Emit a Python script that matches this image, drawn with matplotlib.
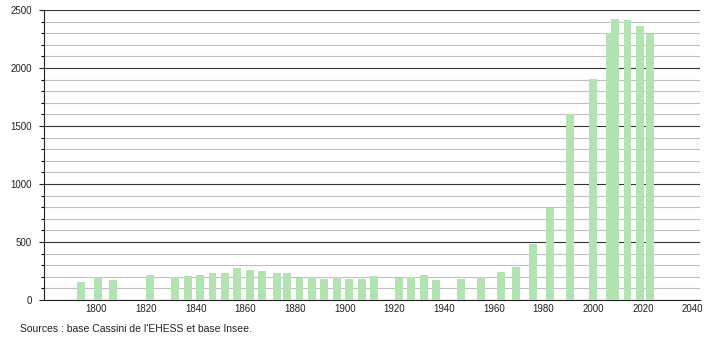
import numpy as np
import matplotlib.pyplot as plt
from matplotlib.ticker import MultipleLocator

plt.rcParams['font.family'] = ['Liberation Sans', 'DejaVu Sans']

# Census years and population
years = [1793, 1800, 1806, 1821, 1831, 1836, 1841, 1846, 1851, 1856,
         1861, 1866, 1872, 1876, 1881, 1886, 1891, 1896, 1901, 1906,
         1911, 1921, 1926, 1931, 1936, 1946, 1954, 1962, 1968, 1975,
         1982, 1990, 1999, 2006, 2008, 2013, 2018, 2022]
population = [158, 196, 172, 218, 195, 207, 218, 233, 233, 276,
              259, 247, 233, 233, 192, 195, 181, 195, 181, 181,
              207, 192, 195, 216, 172, 181, 195, 241, 287, 483,
              790, 1601, 1905, 2299, 2420, 2414, 2362, 2290]

bar_color = '#b3e3b3'

fig = plt.figure(figsize=(7.1, 3.4), dpi=100)
ax = fig.add_axes([0.062, 0.1176, 0.924, 0.853])

# bars sit a little right of the census year in the original
ax.bar(np.array(years) + 0.8, population, width=3.2, color=bar_color, zorder=3)

ax.set_xlim(1779, 2043)
ax.set_ylim(0, 2500)

# grid: dark every 500, light every 100
ax.yaxis.set_major_locator(MultipleLocator(500))
ax.yaxis.set_minor_locator(MultipleLocator(100))
ax.grid(axis='y', which='major', color='#333333', linewidth=0.8, zorder=1)
ax.grid(axis='y', which='minor', color='#c0c0c0', linewidth=0.8, zorder=1)

ax.set_xticks(range(1800, 2041, 20))
ax.tick_params(axis='x', length=0, pad=3, labelsize=7, colors='#222222')
ax.tick_params(axis='y', which='major', length=3.6, width=0.8, pad=5, labelsize=7, colors='#222222')
ax.tick_params(axis='y', which='minor', length=2.2, width=0.8)

for side in ['top', 'right']:
    ax.spines[side].set_visible(False)
ax.spines['left'].set_color('#222222')
ax.spines['bottom'].set_color('#222222')
ax.spines['left'].set_linewidth(0.8)
ax.spines['bottom'].set_linewidth(0.8)

fig.text(0.028, 0.024, "Sources : base Cassini de l'EHESS et base Insee.",
         fontsize=7.5, color='#222222', ha='left', va='baseline')

fig.savefig('out.png', dpi=100)
